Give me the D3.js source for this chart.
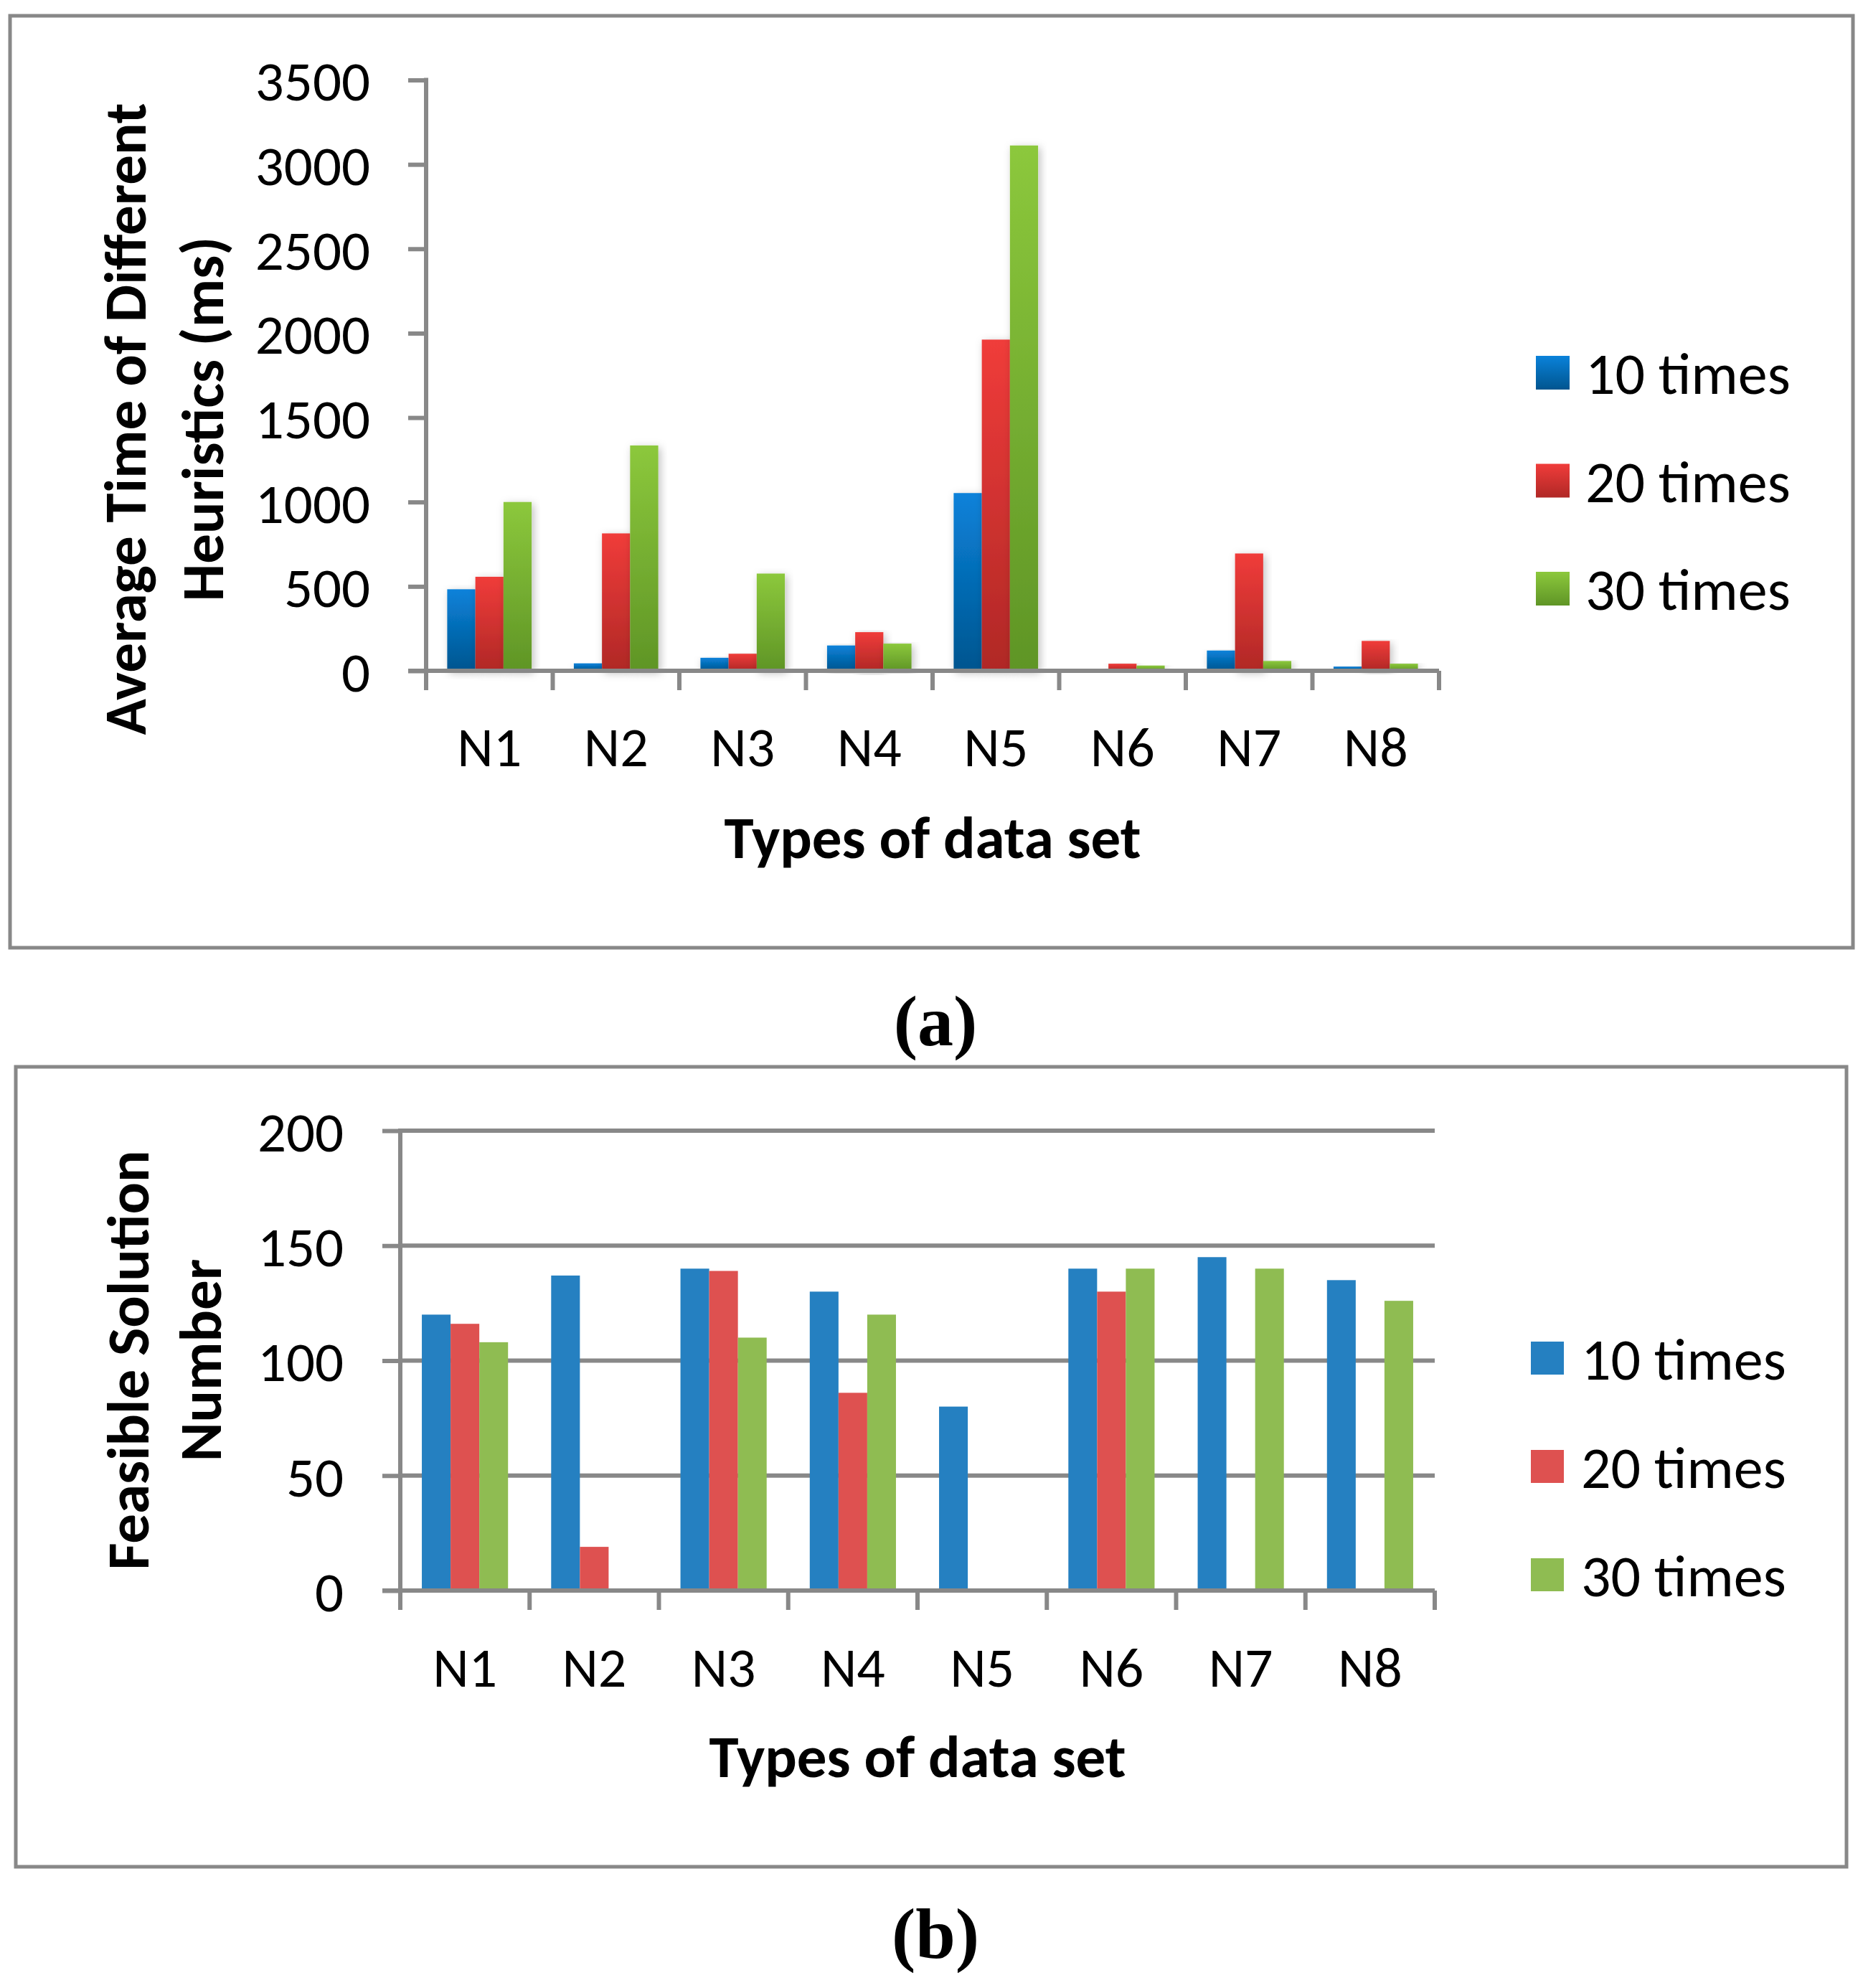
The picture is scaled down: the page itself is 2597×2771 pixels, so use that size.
<!DOCTYPE html>
<html>
<head>
<meta charset="utf-8">
<script src="https://cdn.jsdelivr.net/npm/d3@7"></script>
<style>
  html, body { margin: 0; padding: 0; background: #fff; }
  svg text { font-family: Carlito, Calibri, Lato, sans-serif; fill: #000; }
  svg text.caption { font-family: "Liberation Serif", "Times New Roman", serif; }
</style>
</head>
<body>
<svg id="chart" width="2597" height="2771"></svg>
<script>
// data
const categories = ['N1', 'N2', 'N3', 'N4', 'N5', 'N6', 'N7', 'N8']
const series = ['10 times', '20 times', '30 times']

// (a) average time of heuristics, ms
const timeTen    = [483, 44, 77, 150, 1053, 0, 120, 25]
const timeTwenty = [557, 814, 101, 229, 1962, 42, 695, 177]
const timeThirty = [1000, 1335, 576, 161, 3112, 31, 58, 42]
const timeTicks  = [0, 500, 1000, 1500, 2000, 2500, 3000, 3500]

// (b) feasible solution number
const feasTen    = [120, 137, 140, 130, 80, 140, 145, 135]
const feasTwenty = [116, 19, 139, 86, 0, 130, 0, 0]
const feasThirty = [108, 0, 110, 120, 0, 140, 140, 126]
const feasTicks  = [0, 50, 100, 150, 200]

const gridColor = '#888888'
const svg = d3.select('#chart')
const defs = svg.append('defs')

// gradients for panel (a)
const gradStops = [
    { id: 'gBlue',  top: '#0a82da', bottom: '#00558f' },
    { id: 'gRed',   top: '#f03c3a', bottom: '#b02826' },
    { id: 'gGreen', top: '#8cc83c', bottom: '#5f9526' },
]
gradStops.forEach(g => {
    let lg = defs.append('linearGradient')
        .attr('id', g.id).attr('x1', 0).attr('y1', 0).attr('x2', 0).attr('y2', 1)
    lg.append('stop').attr('offset', '0%').attr('stop-color', g.top)
    lg.append('stop').attr('offset', '100%').attr('stop-color', g.bottom)
})
defs.append('filter').attr('id', 'barShadow')
    .attr('x', '-30%').attr('y', '-5%').attr('width', '160%').attr('height', '115%')
    .append('feDropShadow')
    .attr('dx', 3).attr('dy', 3).attr('stdDeviation', 6)
    .attr('flood-color', '#000').attr('flood-opacity', 0.25)

function drawPanel(cfg) {
    const g = svg.append('g')

    // frame
    g.append('rect')
        .attr('x', cfg.frame[0]).attr('y', cfg.frame[1])
        .attr('width', cfg.frame[2] - cfg.frame[0])
        .attr('height', cfg.frame[3] - cfg.frame[1])
        .attr('fill', 'none').attr('stroke', gridColor).attr('stroke-width', 5)

    const x0 = d3.scaleBand().domain(categories).range([cfg.left, cfg.right]).padding(0)
    const w = x0.bandwidth() / 4.5
    const x1 = d3.scaleBand().domain(series).range([0.75 * w, 3.75 * w]).padding(0)
    const y = d3.scaleLinear().domain(cfg.domain).range([cfg.bottom, cfg.top])

    // gridlines
    g.append('g').selectAll('line')
        .data(cfg.ticks.filter(t => t > 0))
        .enter().append('line')
        .attr('x1', cfg.left).attr('x2', cfg.right)
        .attr('y1', d => y(d)).attr('y2', d => y(d))
        .attr('stroke', gridColor).attr('stroke-width', 6)
        .attr('filter', cfg.shadow ? 'url(#barShadow)' : null)

    // y axis
    const yAxis = g.append('g')
        .attr('transform', `translate(${cfg.left},0)`)
        .call(d3.axisLeft(y).tickValues(cfg.ticks).tickFormat(d3.format('d'))
            .tickSize(25).tickPadding(cfg.labelPad))
    yAxis.select('.domain').remove()
    yAxis.selectAll('line').attr('stroke', gridColor).attr('stroke-width', 6)
    yAxis.selectAll('text')
        .attr('font-size', cfg.tickFont).attr('font-family', null)
        .attr('dy', '0.36em')

    // bars
    const rows = categories.map((c, i) => ({
        cat: c,
        vals: series.map((s, j) => ({ s: s, j: j, v: cfg.values[j][i] }))
    }))
    g.append('g').selectAll('g')
        .data(rows)
        .enter().append('g')
        .attr('transform', d => `translate(${x0(d.cat)},0)`)
        .selectAll('rect')
        .data(d => d.vals.filter(v => v.v > 0))
        .enter().append('rect')
        .attr('x', d => x1(d.s))
        .attr('width', x1.bandwidth())
        .attr('y', d => y(d.v))
        .attr('height', d => y(0) - y(d.v))
        .attr('fill', d => cfg.colors[d.j])
        .attr('filter', cfg.shadow ? 'url(#barShadow)' : null)

    // x axis line and ticks
    g.append('line')
        .attr('x1', cfg.left - 25).attr('x2', cfg.right)
        .attr('y1', y(0)).attr('y2', y(0))
        .attr('stroke', gridColor).attr('stroke-width', 6)
    g.append('line')
        .attr('x1', cfg.left).attr('x2', cfg.left)
        .attr('y1', cfg.top - 3).attr('y2', y(0))
        .attr('stroke', gridColor).attr('stroke-width', 6)
    const bounds = categories.map(c => x0(c)).concat([cfg.right])
    g.append('g').selectAll('line')
        .data(bounds)
        .enter().append('line')
        .attr('x1', d => d).attr('x2', d => d)
        .attr('y1', y(0)).attr('y2', y(0) + 27)
        .attr('stroke', gridColor).attr('stroke-width', 6)

    const xAxis = g.append('g')
        .attr('transform', `translate(0,${y(0)})`)
        .call(d3.axisBottom(x0).tickSize(0))
    xAxis.select('.domain').remove()
    xAxis.selectAll('text')
        .attr('font-size', cfg.catFont).attr('font-family', null)
        .attr('y', cfg.catBaseline - y(0)).attr('dy', 0)

    // x title
    g.append('text')
        .attr('x', (cfg.left + cfg.right) / 2).attr('y', cfg.xTitleBaseline)
        .attr('text-anchor', 'middle').attr('font-weight', 700)
        .attr('font-size', cfg.titleFont)
        .text('Types of data set')

    // y title, two rotated lines
    cfg.yTitle.forEach((t, i) => {
        g.append('text')
            .attr('transform', `translate(${cfg.yTitleX[i]},${cfg.yTitleCenter}) rotate(-90)`)
            .attr('text-anchor', 'middle').attr('font-weight', 700)
            .attr('font-size', cfg.titleFont)
            .text(t)
    })

    // legend
    const leg = g.append('g').selectAll('g')
        .data(series)
        .enter().append('g')
        .attr('transform', (d, i) => `translate(${cfg.legendX},${cfg.legendY[i]})`)
    leg.append('rect')
        .attr('x', 0).attr('y', -cfg.legendBox / 2)
        .attr('width', cfg.legendBox).attr('height', cfg.legendBox)
        .attr('fill', (d, i) => cfg.colors[i])
    leg.append('text')
        .attr('x', cfg.legendText).attr('y', 0).attr('dy', '0.36em')
        .attr('font-size', cfg.legendFont)
        .text(d => d)

    // caption
    svg.append('text')
        .attr('class', 'caption')
        .attr('x', 1304).attr('y', cfg.captionBaseline)
        .attr('text-anchor', 'middle')
        .attr('font-weight', 700).attr('font-size', 100)
        .text(cfg.caption)
}

drawPanel({
    frame: [14, 22, 2583, 1321],
    left: 594, right: 2006, top: 111.5, bottom: 935,
    domain: [0, 3500], ticks: timeTicks,
    values: [timeTen, timeTwenty, timeThirty],
    colors: ['url(#gBlue)', 'url(#gRed)', 'url(#gGreen)'],
    shadow: true,
    tickFont: 79, labelPad: 53, catFont: 78, catBaseline: 1068,
    titleFont: 83, xTitleBaseline: 1196,
    yTitle: ['Average Time of Different', 'Heuristics (ms)'],
    yTitleX: [203, 311], yTitleCenter: 584,
    legendX: 2141, legendY: [519.5, 670, 820.5], legendBox: 47, legendText: 69, legendFont: 82,
    caption: '(a)', captionBaseline: 1457,
})

drawPanel({
    frame: [22, 1487, 2574, 2602],
    left: 558, right: 2000, top: 1576, bottom: 2217,
    domain: [0, 200], ticks: feasTicks,
    values: [feasTen, feasTwenty, feasThirty],
    colors: ['#2580c1', '#de5150', '#8fbc52'],
    shadow: false,
    tickFont: 79, labelPad: 54, catFont: 78, catBaseline: 2351,
    titleFont: 83, xTitleBaseline: 2477,
    yTitle: ['Feasible Solution', 'Number'],
    yTitleX: [207, 308], yTitleCenter: 1896,
    legendX: 2134, legendY: [1893, 2044, 2195], legendBox: 46, legendText: 70, legendFont: 82,
    caption: '(b)', captionBaseline: 2729,
})
</script>
</body>
</html>
